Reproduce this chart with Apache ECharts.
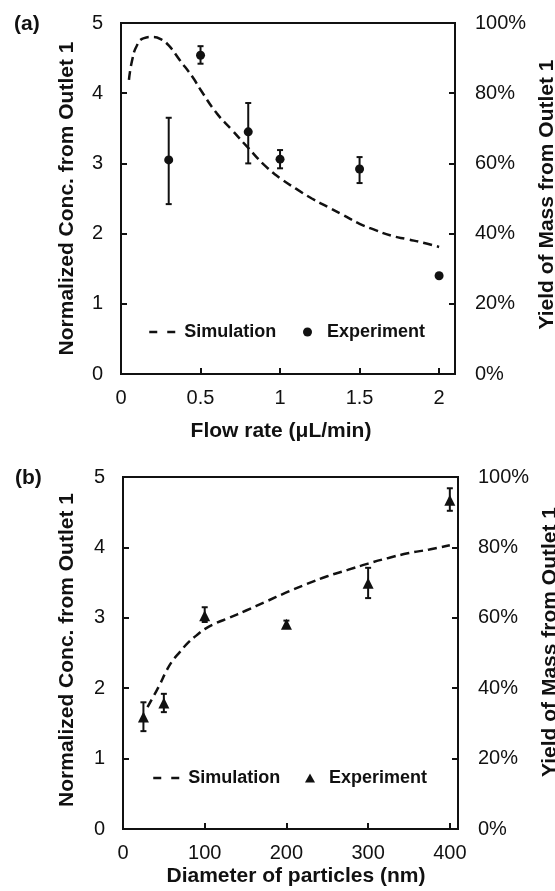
<!DOCTYPE html>
<html>
<head>
<meta charset="utf-8">
<script src="https://cdn.jsdelivr.net/npm/echarts@6/dist/echarts.min.js"></script>
<style>
html,body{margin:0;padding:0;background:#fff;}
#main{width:555px;height:891px;}
</style>
</head>
<body>
<div id="main"></div>
<script>
// ---- Panel (a): flow rate ----
const flowSimX = [0.05,0.07,0.1,0.14,0.2,0.25,0.3,0.37,0.45,0.5,0.6,0.7,0.8,0.9,1.0,1.1,1.2,1.3,1.4,1.5,1.6,1.7,1.8,1.9,2.0];
const flowSimY = [4.19,4.47,4.68,4.78,4.8,4.77,4.68,4.47,4.23,4.05,3.72,3.47,3.22,2.98,2.79,2.64,2.5,2.38,2.26,2.14,2.05,1.97,1.92,1.87,1.81];
const flowExpX = [0.3,0.5,0.8,1.0,1.5,2.0];
const flowExpY = [3.05,4.54,3.45,3.06,2.92,1.40];
const flowErrLow = [2.42,4.42,3.00,2.93,2.72,1.40];
const flowErrHigh = [3.65,4.67,3.86,3.19,3.09,1.40];

// ---- Panel (b): particle diameter ----
const diamSimX = [30,38,45,52,60,70,80,90,100,115,130,150,175,200,225,250,275,300,325,350,375,400];
const diamSimY = [1.73,1.9,2.05,2.22,2.38,2.52,2.65,2.75,2.84,2.93,3.0,3.1,3.23,3.36,3.48,3.59,3.68,3.77,3.85,3.92,3.97,4.03];
const diamExpX = [25,50,100,200,300,400];
const diamExpY = [1.59,1.79,3.03,2.91,3.49,4.67];
const diamErrLow = [1.39,1.66,2.94,2.86,3.28,4.52];
const diamErrHigh = [1.80,1.92,3.15,2.96,3.71,4.84];

const concTicks = {min:0, max:5, interval:1};
const yieldTicks = {min:0, max:100, interval:20};

const INK = '#111';
const FONT = 'Liberation Sans, Arial, sans-serif';

const zip = (a,b) => a.map((v,i)=>[v,b[i]]);
const zip3 = (a,b,c) => a.map((v,i)=>[v,b[i],c[i]]);

function errRender(params, api){
  const x = api.value(0), lo = api.value(1), hi = api.value(2);
  const p1 = api.coord([x, hi]), p2 = api.coord([x, lo]);
  const cw = 3;
  const st = {stroke: INK, lineWidth: 2};
  return {type:'group', children:[
    {type:'line', shape:{x1:p1[0],y1:p1[1],x2:p2[0],y2:p2[1]}, style:st},
    {type:'line', shape:{x1:p1[0]-cw,y1:p1[1],x2:p1[0]+cw,y2:p1[1]}, style:st},
    {type:'line', shape:{x1:p2[0]-cw,y1:p2[1],x2:p2[0]+cw,y2:p2[1]}, style:st}
  ]};
}

function xAxisCfg(grid, min, max, interval, name, nameGap, pad){
  return {
    gridIndex: grid, type:'value', min, max, interval,
    axisLine:{lineStyle:{color:INK, width:2}},
    axisTick:{inside:true, length:6, lineStyle:{color:INK, width:2}},
    axisLabel:{showMaxLabel:false, fontSize:20, color:INK, margin:14, fontFamily:FONT},
    splitLine:{show:false},
    name, nameLocation:'middle', nameGap,
    nameTextStyle:{fontSize:21, fontWeight:'bold', color:INK, fontFamily:FONT, padding:pad}
  };
}
function yAxisCfg(grid, pos, ticks, name, nameGap, pad, fmt){
  return {
    gridIndex: grid, type:'value', position:pos,
    min:ticks.min, max:ticks.max, interval:ticks.interval,
    axisLine:{show:true, lineStyle:{color:INK, width:2}},
    axisTick:{show:true, inside:true, length:6, lineStyle:{color:INK, width:2}},
    axisLabel:{fontSize:20, color:INK, margin:pos==='left'?18:20, fontFamily:FONT, formatter:fmt},
    splitLine:{show:false},
    name, nameLocation:'middle', nameGap,
    nameTextStyle:{fontSize:21, fontWeight:'bold', color:INK, fontFamily:FONT, padding:pad}
  };
}
function legendCfg(left, top, w, h, textPad, name, labelFmt, extra){
  return Object.assign({
    left, top, padding:0, itemWidth:w, itemHeight:h, itemGap:0,
    textStyle:{fontSize:18, fontWeight:'bold', color:INK, fontFamily:FONT, padding:[0,0,0,textPad]},
    formatter:labelFmt,
    data:[name]
  }, extra || {});
}
const strip = (n) => n.replace(/ \([ab]\)$/, '');

const chart = echarts.init(document.getElementById('main'), null, {renderer:'canvas'});
const option = {
  animation:false,
  backgroundColor:'#fff',
  textStyle:{fontFamily:FONT},
  graphic:[
    {type:'text', left:14, top:14, style:{text:'(a)', font:'bold 21px Liberation Sans, Arial', fill:INK}},
    {type:'text', left:15, top:468, style:{text:'(b)', font:'bold 21px Liberation Sans, Arial', fill:INK}}
  ],
  grid:[
    {left:121, top:23, width:334, height:351, show:true, borderColor:INK, borderWidth:2, backgroundColor:'transparent', containLabel:false, outerBoundsMode:'none'},
    {left:123, top:477, width:335, height:352, show:true, borderColor:INK, borderWidth:2, backgroundColor:'transparent', containLabel:false, outerBoundsMode:'none'}
  ],
  legend:[
    legendCfg(148, 323, 26, 10, 4, {name:'Simulation (a)', lineStyle:{type:[8,10], width:2.5}, itemStyle:{color:'transparent', opacity:0, borderWidth:0}}, strip),
    legendCfg(303, 323, 9, 9, 10, 'Experiment (a)', strip),
    legendCfg(152, 769, 26, 10, 4, {name:'Simulation (b)', lineStyle:{type:[8,10], width:2.5}, itemStyle:{color:'transparent', opacity:0, borderWidth:0}}, strip),
    legendCfg(305, 769, 10, 9, 9, 'Experiment (b)', strip)
  ],
  xAxis:[
    xAxisCfg(0, 0, 2.1, 0.5, 'Flow rate (μL/min)', 47, [0,14,0,0]),
    xAxisCfg(1, 0, 410, 100, 'Diameter of particles (nm)', 37, [0,0,0,11])
  ],
  yAxis:[
    yAxisCfg(0, 'left', concTicks, 'Normalized Conc. from Outlet 1', 43, [0,0,0,0]),
    yAxisCfg(0, 'right', yieldTicks, 'Yield of Mass from Outlet 1', 76, [0,0,0,8], '{value}%'),
    yAxisCfg(1, 'left', concTicks, 'Normalized Conc. from Outlet 1', 45, [0,0,0,6]),
    yAxisCfg(1, 'right', yieldTicks, 'Yield of Mass from Outlet 1', 75, [0,0,0,22], '{value}%')
  ],
  series:[
    {name:'Simulation (a)', type:'line', xAxisIndex:0, yAxisIndex:0, data:zip(flowSimX, flowSimY),
     symbol:'none', smooth:true, lineStyle:{color:INK, width:2.5, type:[9,5]}, itemStyle:{color:INK}, z:2},
    {name:'err (a)', type:'custom', xAxisIndex:0, yAxisIndex:0, data:zip3(flowExpX, flowErrLow, flowErrHigh),
     renderItem:errRender, z:3},
    {name:'Experiment (a)', type:'scatter', xAxisIndex:0, yAxisIndex:0, data:zip(flowExpX, flowExpY),
     symbol:'circle', symbolSize:9, itemStyle:{color:INK, opacity:1}, z:4},
    {name:'Simulation (b)', type:'line', xAxisIndex:1, yAxisIndex:2, data:zip(diamSimX, diamSimY),
     symbol:'none', smooth:true, lineStyle:{color:INK, width:2.5, type:[9,5]}, itemStyle:{color:INK}, z:2},
    {name:'err (b)', type:'custom', xAxisIndex:1, yAxisIndex:2, data:zip3(diamExpX, diamErrLow, diamErrHigh),
     renderItem:errRender, z:3},
    {name:'Experiment (b)', type:'scatter', xAxisIndex:1, yAxisIndex:2, data:zip(diamExpX, diamExpY),
     symbol:'triangle', symbolSize:11, itemStyle:{color:INK, opacity:1}, z:4}
  ]
};
chart.setOption(option);
</script>
</body>
</html>
